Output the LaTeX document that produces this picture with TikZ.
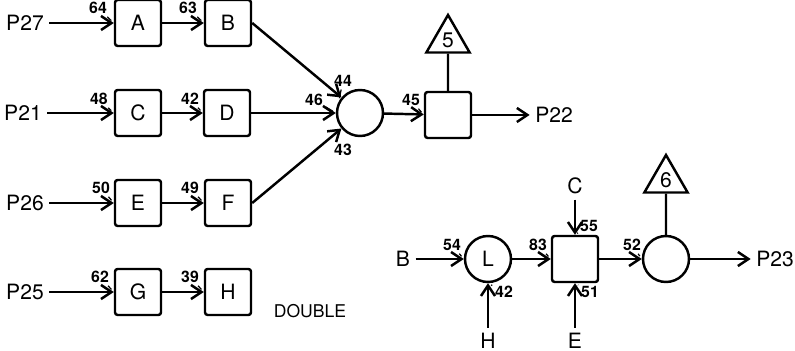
\documentclass[tikz,border=0pt]{standalone}
\usepackage{fontspec}
\setmainfont{TeX Gyre Heros}
\usetikzlibrary{shapes.geometric,arrows.meta}

\tikzset{
  blk/.style={draw, rounded corners=1.5pt, minimum size=0.92cm, inner sep=0pt, font=\large},
  jn/.style={draw, circle, minimum size=0.92cm, inner sep=0pt, font=\large},
  tri/.style={draw, regular polygon, regular polygon sides=3, minimum size=1cm, inner sep=0pt, font=\large},
  io/.style={inner sep=2.5pt, font=\large},
  num/.style={inner sep=1pt, font=\small\bfseries},
  lead/.style={line width=0.7pt, shorten >=2pt},
}

\begin{document}
\begin{tikzpicture}[x=0.02cm, y=-0.02cm, line width=1.4pt, >={Straight Barb[length=6pt,width=8pt]}]
    \useasboundingbox (0,0) rectangle (795,351);
    % left rows
    \node[io] (p27) at (25,23) {P27};
    \node[blk] (a) at (138,23) {A};
    \node[blk] (b) at (228,23) {B};
    \node[io] (p21) at (23,113) {P21};
    \node[blk] (c) at (138,113) {C};
    \node[blk] (d) at (227,113) {D};
    \node[io] (p26) at (25,203) {P26};
    \node[blk] (e) at (138,203) {E};
    \node[blk] (f) at (228,203) {F};
    \node[io] (p25) at (25,292) {P25};
    \node[blk] (g) at (138,292) {G};
    \node[blk] (h) at (228,292) {H};
    \node[io, font=\normalsize] (dbl) at (310,311) {DOUBLE};
    % upper junction
    \node[jn] (m1) at (360,113) {};
    \node[blk] (s1) at (448,115) {};
    \node[tri] (t5) at (448,40) {5};
    \node[io] (p22) at (554,115) {P22};
    % lower chain
    \node[io] (bb) at (403,259) {B};
    \node[jn] (l) at (488,259) {L};
    \node[io] (hh) at (488,341) {H};
    \node[blk] (s2) at (575,259) {};
    \node[io] (cc) at (575,186) {C};
    \node[io] (ee) at (575,341) {E};
    \node[jn] (m2) at (666,259) {};
    \node[tri] (t6) at (666,180) {6};
    \node[io] (p23) at (775,259) {P23};
    % flows
    \draw[->] (p27) -- (a);
    \draw[->] (a) -- (b);
    \draw[->] (p21) -- (c);
    \draw[->] (c) -- (d);
    \draw[->] (p26) -- (e);
    \draw[->] (e) -- (f);
    \draw[->] (p25) -- (g);
    \draw[->] (g) -- (h);
    \draw[->] (b.east) -- (m1);
    \draw[->] (d) -- (m1);
    \draw[->] (f.east) -- (m1);
    \draw[->] (m1) -- (s1);
    \draw[->] (s1) -- (p22);
    \draw (t5) -- (s1);
    \draw[->] (bb) -- (l);
    \draw[->] (hh) -- (l);
    \draw[->] (l) -- (s2);
    \draw[->] (cc) -- (s2);
    \draw[->] (ee) -- (s2);
    \draw[->] (s2) -- (m2);
    \draw[->] (m2) -- (p23);
    \draw (t6) -- (m2);
    % stream numbers
    \node[num] (n64) at (98,8) {64};
    \node[num] (n63) at (188,8) {63};
    \node[num] (n48) at (99,99) {48};
    \node[num] (n42) at (190,99) {42};
    \node[num] (n50) at (101,188) {50};
    \node[num] (n49) at (190,188) {49};
    \node[num] (n62) at (100,277) {62};
    \node[num] (n39) at (190,277) {39};
    \node[num] (n44) at (343,81) {44};
    \node[num] (n46) at (314,100) {46};
    \node[num] (n43) at (343,150) {43};
    \node[num] (n45) at (411,100) {45};
    \node[num] (n54) at (452,245) {54};
    \node[num] (n42b) at (504,292) {42};
    \node[num] (n83) at (538,245) {83};
    \node[num] (n55) at (589,226) {55};
    \node[num] (n51) at (590,292) {51};
    \node[num] (n52) at (632,245) {52};
    \draw[lead] (n64) -- (a.west);
    \draw[lead] (n63) -- (b.west);
    \draw[lead] (n48) -- (c.west);
    \draw[lead] (n42) -- (d.west);
    \draw[lead] (n50) -- (e.west);
    \draw[lead] (n49) -- (f.west);
    \draw[lead] (n62) -- (g.west);
    \draw[lead] (n39) -- (h.west);
    \draw[lead] (n44) -- (m1.152);
    \draw[lead] (n46) -- (m1.west);
    \draw[lead] (n45) -- (s1.west);
    \draw[lead] (n54) -- (l.west);
    \draw[lead] (n42b) -- (l.south);
    \draw[lead] (n83) -- (s2.west);
    \draw[lead] (n55) -- (s2.north);
    \draw[lead] (n51) -- (s2.south);
    \draw[lead] (n52) -- (m2.west);
\end{tikzpicture}
\end{document}
